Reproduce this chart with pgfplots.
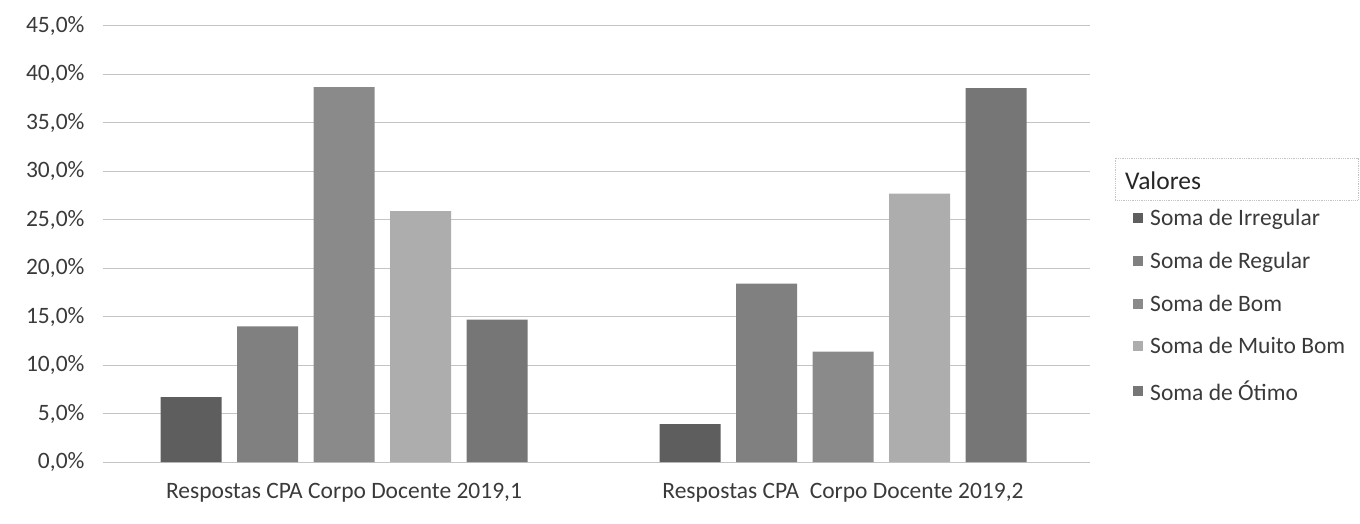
\documentclass[border=0pt]{standalone}
\usepackage{fontspec}
\setmainfont{Carlito}
\usepackage{pgfplots}
\pgfplotsset{compat=1.18}
\definecolor{cIrr}{HTML}{5E5E5E}
\definecolor{cReg}{HTML}{808080}
\definecolor{cBom}{HTML}{8A8A8A}
\definecolor{cMB}{HTML}{ADADAD}
\definecolor{cOti}{HTML}{767676}
\definecolor{gridc}{HTML}{C4C4C4}
\definecolor{txt}{HTML}{3A3A3A}
\begin{document}
\begin{tikzpicture}
\useasboundingbox (0pt,0pt) rectangle (1360pt,523pt);
\begin{axis}[
  at={(103pt,61pt)}, anchor=south west,
  scale only axis, width=987pt, height=436pt,
  xmin=-0.483, xmax=1.495, ymin=0, ymax=45,
  ytick={0,5,...,45},
  xtick={0,1},
  xticklabels={Respostas CPA Corpo Docente 2019{,}1, Respostas CPA\ \ Corpo Docente 2019{,}2},
  ybar=15.5pt, bar width=61pt,
  axis line style={draw=none},
  tick style={draw=none},
  ymajorgrids,
  major grid style={color=gridc, line width=1pt},
  /pgf/number format/assume math mode=true,
  yticklabel={\pgfmathprintnumber[fixed, fixed zerofill, precision=1, use comma]{\tick}\%},
  tick label style={font=\fontsize{23.5}{28}\selectfont, text=txt},
  y tick label style={xshift=-15pt},
  x tick label style={yshift=-13pt},
  legend style={at={(1.0436,0.585)}, anchor=north west, draw=none, fill=none,
    font=\fontsize{23.5}{28}\selectfont, text=txt, row sep=21pt, inner sep=0pt},
  legend cell align=left,
  legend image code/.code={\fill[#1] (0pt,-5pt) rectangle (10pt,5pt); \path (15pt,0pt);},
]
\addplot[fill=cIrr, draw=none] coordinates {(0,6.7) (1,3.9)};
\addplot[fill=cReg, draw=none] coordinates {(0,14.0) (1,18.4)};
\addplot[fill=cBom, draw=none] coordinates {(0,38.7) (1,11.4)};
\addplot[fill=cMB, draw=none] coordinates {(0,25.9) (1,27.7)};
\addplot[fill=cOti, draw=none] coordinates {(0,14.7) (1,38.6)};
\legend{Soma de Irregular, Soma de Regular, Soma de Bom, Soma de Muito Bom, Soma de Ótimo}
\end{axis}
\draw[gridc, densely dotted, line width=0.8pt] (1115pt,323pt) rectangle (1358pt,365pt);
\node[anchor=base west, inner sep=0pt, font=\fontsize{25.5}{30}\selectfont, text=black!85] at (1125pt,333pt) {Valores};
\end{tikzpicture}
\end{document}
